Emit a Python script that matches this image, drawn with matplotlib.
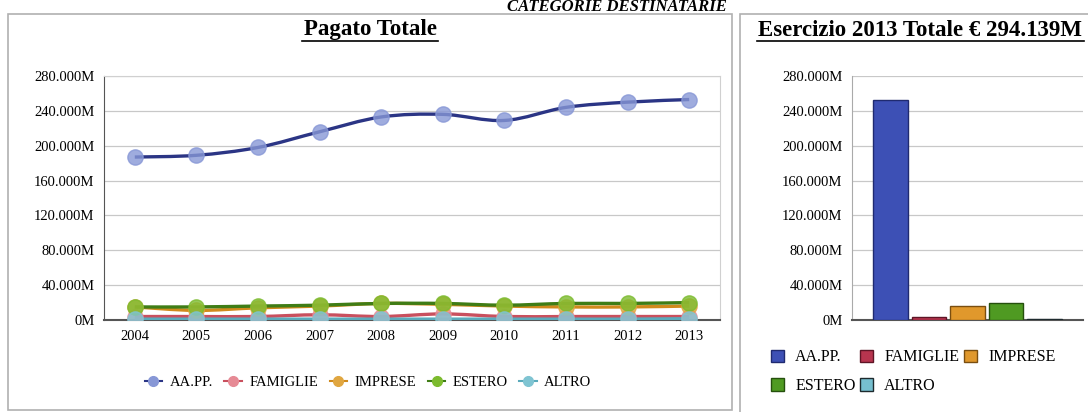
import numpy as np
import matplotlib
matplotlib.use("Agg")
import matplotlib.pyplot as plt
from matplotlib.path import Path
from matplotlib.patches import PathPatch, Rectangle
from matplotlib.lines import Line2D

# == data ===
years = [2004, 2005, 2006, 2007, 2008, 2009, 2010, 2011, 2012, 2013]
categories = ["AA.PP.", "FAMIGLIE", "IMPRESE", "ESTERO", "ALTRO"]

aapp = [187, 189, 198, 216, 233, 236, 229, 244, 250, 253]
famiglie = [4, 4, 4, 6, 4, 7, 4, 4, 4, 4]
imprese = [15, 11, 14, 16, 19, 18, 16, 15, 15, 16]
estero = [15, 15, 16, 17, 19, 19, 17, 19, 19, 20]
altro = [1, 1, 1, 1, 1, 1, 1, 1, 1, 1.5]

values_2013 = [253, 4, 16, 20, 1.5]

y_ticks = [0, 40, 80, 120, 160, 200, 240, 280]
y_labels = ["0M", "40.000M", "80.000M", "120.000M", "160.000M",
            "200.000M", "240.000M", "280.000M"]

# === style ===
line_colors = ["#2b3585", "#c9505e", "#d08a1c", "#3f7d16", "#5aaabb"]
marker_colors = ["#8797d6", "#e68a95", "#e0a640", "#7cbb2e", "#7fc4d2"]
bar_colors = ["#3d50b5", "#b8354f", "#e0982c", "#4f9a22", "#76bfcf"]
bar_edges = ["#1f2a70", "#5e1526", "#7a4e10", "#25500d", "#1e2a2e"]

plt.rcParams["font.family"] = ["Liberation Serif", "DejaVu Serif"]

fig = plt.figure(figsize=(10.88, 4.12), dpi=100)

# panel frames
fig.patches.append(Rectangle((8 / 1088, 2 / 412), 724 / 1088, 396 / 412,
                             transform=fig.transFigure, fill=False,
                             edgecolor="#b0b0b0", lw=1.2))
fig.patches.append(Rectangle((740 / 1088, -0.01), 360 / 1088, 402 / 412,
                             transform=fig.transFigure, fill=False,
                             edgecolor="#b0b0b0", lw=1.2))

fig.text(617 / 1088, 1 - 11 / 412, "CATEGORIE DESTINATARIE", ha="center",
         va="baseline", fontsize=12, fontweight="bold", style="italic")


def smooth_path(xs, ys):
    pts = np.column_stack([xs, ys]).astype(float)
    verts = [pts[0]]
    codes = [Path.MOVETO]
    n = len(pts)
    for i in range(n - 1):
        p0 = pts[i - 1] if i > 0 else pts[i]
        p1 = pts[i]
        p2 = pts[i + 1]
        p3 = pts[i + 2] if i + 2 < n else pts[i + 1]
        verts += [p1 + (p2 - p0) / 6, p2 - (p3 - p1) / 6, p2]
        codes += [Path.CURVE4] * 3
    return Path(verts, codes)


# === left: line chart ===
ax1 = fig.add_axes([104 / 1088, 1 - 320 / 412, 616 / 1088, 244 / 412])
series = [aapp, famiglie, imprese, estero, altro]
order = [4, 1, 2, 0, 3]
for i in order:
    ax1.add_patch(PathPatch(smooth_path(years, series[i]), fill=False,
                            edgecolor=line_colors[i], lw=2.4, zorder=3 + i * 0.1))
    ax1.plot(years, series[i], ls="none", marker="o", ms=11,
             markerfacecolor=marker_colors[i], markeredgecolor=marker_colors[i],
             alpha=0.8, zorder=4 + i * 0.1)

ax1.set_xlim(2003.5, 2013.5)
ax1.set_ylim(0, 280)
ax1.set_xticks(years)
ax1.set_xticklabels([str(y) for y in years], fontsize=10.5)
ax1.set_yticks(y_ticks)
ax1.set_yticklabels(y_labels, fontsize=10.5)
ax1.tick_params(length=0, pad=7)
ax1.grid(axis="y", color="#c8c8c8", lw=0.9)
ax1.set_axisbelow(True)
for s in ["top", "right"]:
    ax1.spines[s].set_color("#d0d0d0")
ax1.spines["left"].set_color("#555555")
ax1.spines["bottom"].set_color("#555555")
ax1.spines["bottom"].set_linewidth(1.5)

fig.text(370 / 1088, 1 - 30 / 412, "Pagato Totale", ha="center", va="center",
         fontsize=16.5, fontweight="bold")
fig.add_artist(Line2D([302 / 1088, 438 / 1088], [1 - 41 / 412, 1 - 41 / 412],
                      color="black", lw=1.2))

handles = [Line2D([], [], color=line_colors[i], lw=1.5, marker="o", ms=7,
                  markerfacecolor=marker_colors[i],
                  markeredgecolor=marker_colors[i]) for i in range(5)]
fig.legend(handles, categories, loc="center", ncol=5,
           bbox_to_anchor=(368 / 1088, 1 - 382 / 412), frameon=False,
           fontsize=10.5, handlelength=1.2, handletextpad=0.5, columnspacing=0.8)

# === right: bar chart ===
ax2 = fig.add_axes([852 / 1088, 1 - 320 / 412, 231 / 1088, 244 / 412])
xpos = np.arange(len(categories))
ax2.bar(xpos, values_2013, width=0.9, color=bar_colors,
        edgecolor=bar_edges, lw=1.0, zorder=3)
ax2.set_xlim(-1, 5)
ax2.set_ylim(0, 280)
ax2.set_xticks([])
ax2.set_yticks(y_ticks)
ax2.set_yticklabels(y_labels, fontsize=10.5)
ax2.tick_params(length=0, pad=7)
ax2.grid(axis="y", color="#c8c8c8", lw=0.9)
ax2.set_axisbelow(True)
for s in ["top", "right"]:
    ax2.spines[s].set_visible(False)
ax2.spines["left"].set_color("#aaaaaa")
ax2.spines["bottom"].set_color("#555555")
ax2.spines["bottom"].set_linewidth(1.5)

fig.text(920 / 1088, 1 - 30 / 412, "Esercizio 2013 Totale \u20ac 294.139M",
         ha="center", va="center", fontsize=16.5, fontweight="bold")
fig.add_artist(Line2D([757 / 1088, 1084 / 1088], [1 - 41 / 412, 1 - 41 / 412],
                      color="black", lw=1.2))

sq = [Rectangle((0, 0), 1, 1, facecolor=bar_colors[i], edgecolor=bar_edges[i])
      for i in range(5)]
reorder = [0, 3, 1, 4, 2]
fig.legend([sq[i] for i in reorder], [categories[i] for i in reorder],
           loc="upper left", ncol=3, bbox_to_anchor=(760 / 1088, 1 - 338 / 412),
           frameon=False, fontsize=11.5, handlelength=0.8, handleheight=0.8,
           handletextpad=0.7, columnspacing=0.3, labelspacing=0.8,
           borderpad=0.2)

fig.savefig("out.png", dpi=100)
